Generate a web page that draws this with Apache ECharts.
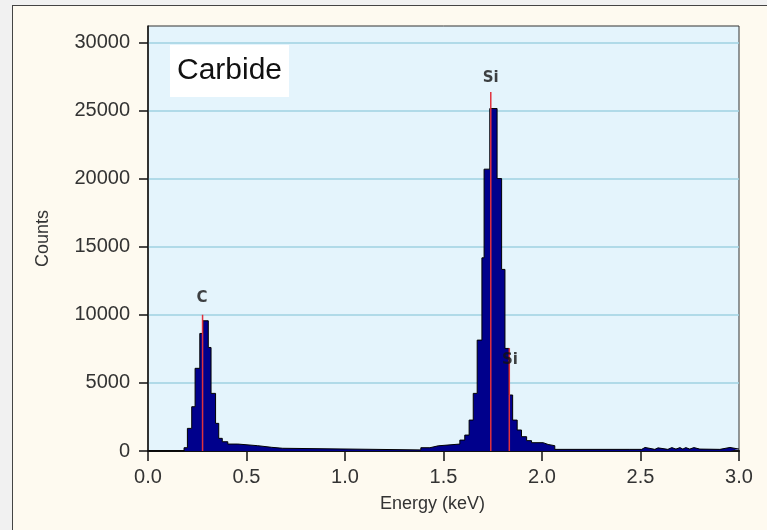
<!DOCTYPE html>
<html>
<head>
<meta charset="utf-8">
<script src="https://cdn.jsdelivr.net/npm/echarts@6/dist/echarts.min.js"></script>
<style>
  html, body { margin: 0; padding: 0; background: #f1f1f1; }
  #frame { position: absolute; left: 12px; top: 5px; width: 800px; height: 600px;
           background: #fefaf0; border: 1.5px solid #444; }
  #chart { position: absolute; left: 0; top: 0; width: 767px; height: 530px; }
</style>
</head>
<body>
<div id="frame"></div>
<div id="chart"></div>
<script>
// spectrum: left edge of each step (keV) and its counts
const energy = [0, 0.183, 0.200, 0.222, 0.239, 0.263, 0.279, 0.306, 0.320, 0.343, 0.359, 0.377,
  0.405, 0.456, 0.557, 0.628, 0.684, 1.385, 1.431, 1.473, 1.583, 1.608, 1.630, 1.651, 1.671,
  1.695, 1.706, 1.735, 1.772, 1.795, 1.812, 1.833, 1.851, 1.874, 1.896, 1.922, 1.947, 2.006,
  2.031, 2.065, 2.446, 2.506, 2.523, 2.573, 2.589, 2.639, 2.659, 2.680, 2.700, 2.715, 2.730,
  2.750, 2.771, 2.801, 2.903, 2.954, 3.0];
const counts = [0, 240, 1660, 3250, 6070, 8630, 9560, 7600, 4230, 2030, 930, 680,
  510, 390, 270, 200, 80, 240, 380, 510, 800, 1170, 2270, 4230, 8140,
  14180, 20690, 25140, 20000, 13330, 7530, 4110, 2270, 1540, 1050, 760, 610, 480,
  390, 120, 120, 260, 120, 230, 120, 250, 140, 250, 140, 250, 140,
  250, 140, 120, 260, 140, 140];

// element markers
const peakNames = ["C", "Si", "Si"];
const peakEnergy = [0.277, 1.740, 1.834];
const peakTop = [10000, 26350, 7550];
const labelEnergy = [0.274, 1.740, 1.837];
const labelCounts = [11220, 27360, 6670];

const yTicks = [0, 5000, 10000, 15000, 20000, 25000, 30000];

const font = "Liberation Sans";

const markerSeries = peakEnergy.map((e, i) => ({
  type: "line",
  data: [[e, 0], [e, peakTop[i]]],
  symbol: "none",
  lineStyle: { color: "#e0323e", width: 1.5 },
  z: 5,
  silent: true,
}));

const option = {
  animation: false,
  title: {
    text: "Carbide",
    left: 170,
    top: 45,
    backgroundColor: "#ffffff",
    padding: [11, 7, 11, 7],
    textStyle: { fontFamily: font, fontSize: 30, fontWeight: "normal", color: "#111" },
  },
  grid: {
    left: 148, right: 28, top: 26, bottom: 79,
    show: true,
    backgroundColor: "#e4f4fc",
    borderColor: "#333",
    borderWidth: 1,
  },
  xAxis: {
    type: "value",
    min: 0, max: 3, interval: 0.5,
    name: "Energy (keV)",
    nameLocation: "middle",
    nameGap: 44,
    nameTextStyle: { fontFamily: font, fontSize: 18, color: "#333", padding: [0, 22, 0, 0] },
    axisLine: { lineStyle: { color: "#111", width: 2 } },
    axisTick: { length: 10, lineStyle: { color: "#111", width: 1.5 } },
    axisLabel: { margin: 16, fontFamily: font, fontSize: 20, color: "#333",
      formatter: (v) => v.toFixed(1) },
    splitLine: { show: false },
  },
  yAxis: {
    type: "value",
    min: 0, max: 31200, interval: 5000,
    name: "Counts",
    nameLocation: "middle",
    nameGap: 96,
    nameTextStyle: { fontFamily: font, fontSize: 18, color: "#333" },
    axisLine: { show: true, lineStyle: { color: "#111", width: 1.5 } },
    axisTick: { show: true, length: 9, customValues: yTicks, lineStyle: { color: "#111", width: 1.5 } },
    axisLabel: { margin: 18, fontFamily: font, fontSize: 20, color: "#333", customValues: yTicks,
      formatter: (v) => String(v) },
    splitLine: { show: true, lineStyle: { color: "#9fd2e2", width: 1.5 } },
  },
  series: [
    {
      type: "line",
      step: "end",
      data: energy.map((e, i) => [e, counts[i]]),
      symbol: "none",
      lineStyle: { color: "#000", width: 1 },
      areaStyle: { color: "#00008c", opacity: 1 },
      z: 3,
      silent: true,
    },
    ...markerSeries,
    {
      type: "scatter",
      symbolSize: 0,
      data: labelEnergy.map((e, i) => [e, labelCounts[i], peakNames[i]]),
      label: {
        show: true,
        position: "inside",
        formatter: (p) => p.value[2],
        fontFamily: "DejaVu Sans",
        fontWeight: "bold",
        fontSize: 15,
        color: "#111",
      },
      z: 6,
      silent: true,
    },
  ],
};

const myChart = echarts.init(document.getElementById("chart"));
myChart.setOption(option);
</script>
</body>
</html>
